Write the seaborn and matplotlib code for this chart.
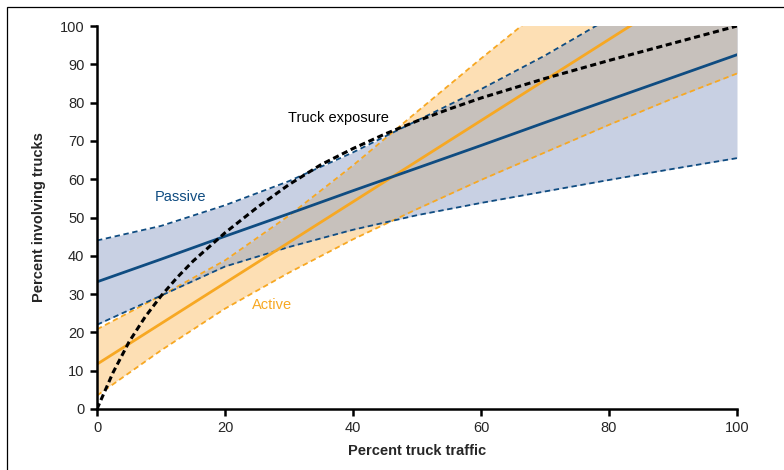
"""Percent involving trucks vs percent truck traffic (passive / active bands)."""

import numpy as np
import matplotlib.pyplot as plt
import matplotlib.patches as mpatches
import pandas as pd
import seaborn as sns

BLUE = "#0F4C81"
ORANGE = "#F7A823"
BLUE_FILL = "#C8D0E3"
ORANGE_FILL = "#FDDFB4"
OVERLAP_FILL = "#C7C1BC"

# data
traffic = [0, 10, 20, 30, 40, 50, 60, 70, 80, 90, 100]
passive_mid = [33.2, 39.1, 45.1, 51.0, 57.0, 62.9, 68.8, 74.8, 80.7, 86.6, 92.5]
passive_hi = [44.0, 47.8, 53.2, 59.5, 67.0, 75.3, 83.5, 92.3, 102.0, 111.0, 120.0]
passive_lo = [22.0, 29.6, 37.2, 42.3, 46.8, 50.6, 53.8, 56.8, 59.8, 62.7, 65.5]
active_mid = [11.7, 22.3, 32.9, 43.5, 54.1, 64.7, 75.3, 85.9, 96.5, 107.1, 117.7]
active_hi = [20.8, 29.6, 38.8, 50.5, 63.6, 77.6, 91.5, 105.0, 118.0, 131.0, 144.0]
active_lo = [3.5, 15.3, 26.2, 35.6, 44.3, 52.2, 59.8, 67.0, 74.2, 81.1, 87.6]

exposure_x = [0, 2.5, 5, 7.5, 10, 12.5, 15, 20, 25, 30, 35, 40, 45, 50, 55, 60, 70, 80, 90, 100]
exposure_y = [0, 9.5, 17.5, 24.0, 29.5, 34.3, 38.6, 46.0, 52.6, 58.6, 63.8, 68.0, 71.8,
              75.2, 78.3, 81.2, 86.3, 91.0, 95.5, 100]


def main() -> None:
    sns.set_theme(style="white")
    plt.rcParams["font.family"] = ["Liberation Sans", "DejaVu Sans"]

    fig = plt.figure(figsize=(7.84, 4.70), dpi=100)
    ax = fig.add_axes([97 / 784, 1 - 409 / 470, 640 / 784, 383 / 470])

    x = np.array(traffic, dtype=float)
    p_hi, p_lo = np.array(passive_hi), np.array(passive_lo)
    a_hi, a_lo = np.array(active_hi), np.array(active_lo)

    ax.fill_between(x, a_lo, a_hi, color=ORANGE_FILL, lw=0, zorder=1)
    ax.fill_between(x, p_lo, p_hi, color=BLUE_FILL, lw=0, zorder=2)
    # overlap of the two bands
    xf = np.linspace(0, 100, 401)
    top = np.minimum(np.interp(xf, x, p_hi), np.interp(xf, x, a_hi))
    bot = np.maximum(np.interp(xf, x, p_lo), np.interp(xf, x, a_lo))
    ax.fill_between(xf, bot, top, where=top > bot, color=OVERLAP_FILL, lw=0, zorder=3)

    df = pd.DataFrame({
        "traffic": traffic,
        "passive_mid": passive_mid, "passive_hi": passive_hi, "passive_lo": passive_lo,
        "active_mid": active_mid, "active_hi": active_hi, "active_lo": active_lo,
    })

    for col in ["active_hi", "active_lo"]:
        sns.lineplot(data=df, x="traffic", y=col, color=ORANGE, lw=1.3,
                     ax=ax, zorder=4).lines[-1].set_dashes([3, 2])
    for col in ["passive_hi", "passive_lo"]:
        sns.lineplot(data=df, x="traffic", y=col, color=BLUE, lw=1.3,
                     ax=ax, zorder=4).lines[-1].set_dashes([3, 2])
    sns.lineplot(data=df, x="traffic", y="active_mid", color=ORANGE, lw=2.0, ax=ax, zorder=5)
    sns.lineplot(data=df, x="traffic", y="passive_mid", color=BLUE, lw=2.0, ax=ax, zorder=5)
    sns.lineplot(x=exposure_x, y=exposure_y, color="black", lw=2.2, ax=ax,
                 zorder=6).lines[-1].set_dashes([2, 1.2])

    ax.text(13.1, 55.4, "Passive", color=BLUE, fontsize=10.5, ha="center", va="center")
    ax.text(27.3, 27.2, "Active", color=ORANGE, fontsize=10.5, ha="center", va="center")
    ax.text(37.7, 76.0, "Truck exposure", color="black", fontsize=10.5, ha="center", va="center")

    ax.set_xlim(0, 100)
    ax.set_ylim(0, 100)
    ax.set_xticks(range(0, 101, 20))
    ax.set_yticks(range(0, 101, 10))
    ax.set_xlabel("Percent truck traffic", fontsize=10.5, fontweight="bold", labelpad=6)
    ax.set_ylabel("Percent involving trucks", fontsize=10.5, fontweight="bold", labelpad=10)
    ax.tick_params(axis="both", direction="out", length=5, width=1.8, color="black",
                   labelsize=10.5, pad=4, bottom=True, left=True)
    for side in ["top", "right"]:
        ax.spines[side].set_visible(False)
    for side in ["left", "bottom"]:
        ax.spines[side].set_color("black")
        ax.spines[side].set_linewidth(1.8)
        ax.spines[side].set_zorder(10)

    # outer frame, cut off at right and bottom in the original
    fig.patches.append(mpatches.Rectangle((7 / 784, -0.1), 1.0, 1.1 - 7 / 470,
                                          transform=fig.transFigure, fill=False,
                                          edgecolor="black", lw=0.9))

    fig.savefig("out.png", dpi=100)
    plt.close(fig)


if __name__ == "__main__":
    main()
